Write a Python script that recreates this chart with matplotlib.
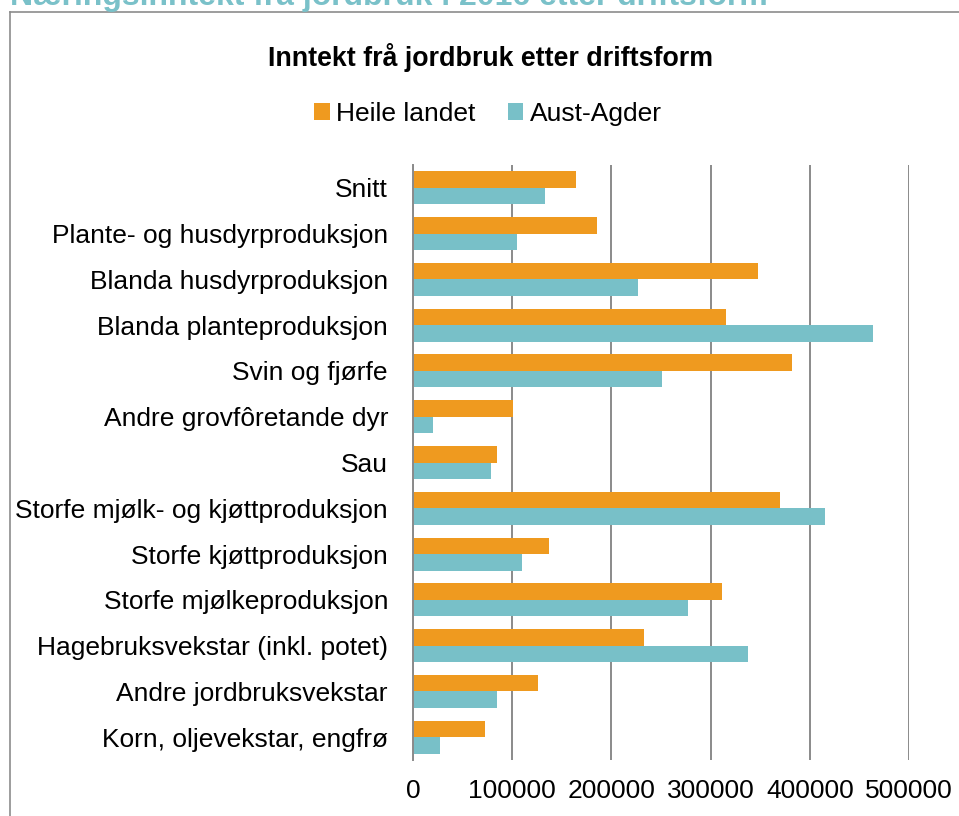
import matplotlib
matplotlib.use("Agg")
import matplotlib.pyplot as plt
from matplotlib.lines import Line2D
from matplotlib.patches import Patch
import numpy as np

categories = [
    "Snitt",
    "Plante- og husdyrproduksjon",
    "Blanda husdyrproduksjon",
    "Blanda planteproduksjon",
    "Svin og fjørfe",
    "Andre grovfôretande dyr",
    "Sau",
    "Storfe mjølk- og kjøttproduksjon",
    "Storfe kjøttproduksjon",
    "Storfe mjølkeproduksjon",
    "Hagebruksvekstar (inkl. potet)",
    "Andre jordbruksvekstar",
    "Korn, oljevekstar, engfrø",
]
heile_landet = [164700, 185500, 347800, 315900, 382400, 100800, 85000,
                369700, 137100, 311900, 232900, 125700, 73000]
aust_agder = [133500, 104500, 226500, 463700, 251000, 20200, 78300,
              415300, 110300, 277600, 338100, 84400, 27200]
series_names = ["Heile landet", "Aust-Agder"]
xticks = [0, 100000, 200000, 300000, 400000, 500000]

ORANGE = "#EF9A1F"
TEAL = "#78C0C8"
GRID = "#8A8A8A"

plt.rcParams["font.family"] = ["Liberation Sans", "DejaVu Sans"]

W, H = 959, 816
fig = plt.figure(figsize=(W / 100, H / 100), dpi=100)

def fx(px):
    return px / W

def fy(py):
    return 1 - py / H

ax = fig.add_axes([fx(413), fy(760), fx(909) - fx(413), fy(165) - fy(760)])

y = np.arange(len(categories))
h = 0.36
ax.barh(y - h / 2, heile_landet, height=h, color=ORANGE, zorder=3)
ax.barh(y + h / 2, aust_agder, height=h, color=TEAL, zorder=3)

ax.set_xlim(0, 500000)
ax.set_ylim(len(categories) - 0.5, -0.5)
ax.set_yticks(y)
ax.set_yticklabels(categories, fontsize=19)
ax.set_xticks(xticks)
ax.set_xticklabels([str(v) for v in xticks], fontsize=19)
ax.tick_params(axis="both", length=0)
ax.tick_params(axis="y", pad=18)
ax.tick_params(axis="x", pad=14)
ax.grid(axis="x", color=GRID, linewidth=1.4, zorder=0)
ax.set_axisbelow(True)
for s in ["top", "right", "bottom"]:
    ax.spines[s].set_visible(False)
ax.spines["left"].set_color(GRID)
ax.spines["left"].set_linewidth(1.4)
ax.spines["left"].set_zorder(4)

# Chart title
fig.text(0.5 * (fx(268) + fx(712)), fy(57), "Inntekt frå jordbruk etter driftsform",
         ha="center", va="center", fontsize=19.3, fontweight="bold", color="black")

# Legend
handles = [Patch(facecolor=ORANGE, edgecolor="none"), Patch(facecolor=TEAL, edgecolor="none")]
fig.legend(handles, series_names, loc="center", bbox_to_anchor=(fx(488), fy(114)),
           ncol=2, frameon=False, fontsize=19, handlelength=0.6, handleheight=0.6,
           handletextpad=0.25, columnspacing=1.2)

# Cropped page heading in teal
fig.text(fx(10), fy(5), "Næringsinntekt frå jordbruk i 2016 etter driftsform",
         ha="left", va="baseline", fontsize=23, fontweight="bold", color="#7AC1C9")

# Outer chart border (top and left visible)
fig.add_artist(Line2D([fx(9.5), 1.0], [fy(11.5), fy(11.5)], color="#8C8C8C", linewidth=1.2))
fig.add_artist(Line2D([fx(9.5), fx(9.5)], [fy(11.5), 0.0], color="#8C8C8C", linewidth=1.2))

fig.savefig("out.png", dpi=100)
